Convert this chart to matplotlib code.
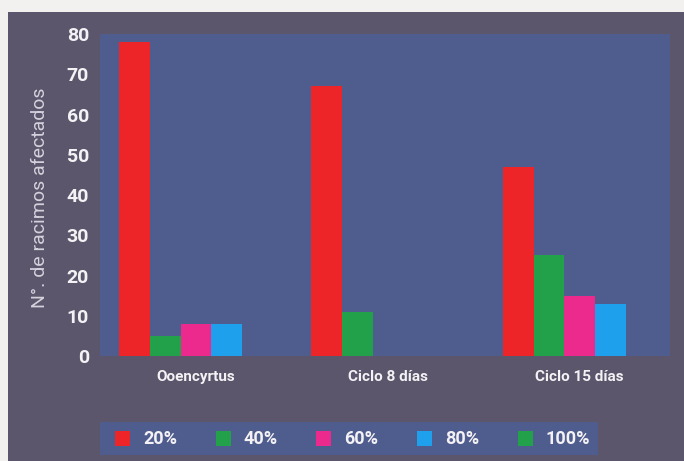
import numpy as np
import matplotlib.pyplot as plt
from matplotlib.patches import Rectangle

# datos: racimos afectados por grado de ataque
categorias = ['Ooencyrtus', 'Ciclo 8 días', 'Ciclo 15 días']
series = ['20%', '40%', '60%', '80%', '100%']
valores_20 = [78, 67, 47]
valores_40 = [5, 11, 25]
valores_60 = [8, 0, 15]
valores_80 = [8, 0, 13]
valores_100 = [0, 0, 0]
yticks = [0, 10, 20, 30, 40, 50, 60, 70, 80]

colores = ['#ee2528', '#22a04a', '#ec2a8e', '#1ea0ec', '#22a04a']
fondo_panel = '#5b566c'
fondo_graf = '#4e5c8e'
texto = '#f4f2f4'

plt.rcParams['font.family'] = ['Liberation Sans Narrow', 'Roboto', 'DejaVu Sans']

fig = plt.figure(figsize=(6.84, 4.61), dpi=100, facecolor='#f3f1ef')
W, H = 684, 461

def px(x0, y0, x1, y1):
    return [x0 / W, 1 - y1 / H, (x1 - x0) / W, (y1 - y0) / H]

# panel oscuro de fondo
fig.patches.append(Rectangle((8 / W, 0), 1, 1 - 12 / H, transform=fig.transFigure,
                             facecolor=fondo_panel, edgecolor='none', zorder=-10))

ax = fig.add_axes(px(100, 34, 670, 356))
ax.set_facecolor(fondo_graf)

datos = [valores_20, valores_40, valores_60, valores_80, valores_100]
x = np.arange(len(categorias))
ancho = 0.16
for i, (vals, col) in enumerate(zip(datos, colores)):
    ax.bar(x + (i - 2) * ancho, vals, width=ancho, color=col, edgecolor='none', zorder=3)

ax.set_xlim(-0.5, 2.47)
ax.set_ylim(0, 80)
ax.set_yticks(yticks)
ax.set_yticklabels([str(v) for v in yticks], fontsize=14, fontweight='bold', color=texto)
ax.set_xticks(x)
ax.set_xticklabels(categorias, fontsize=11, fontweight='bold', color=texto)
ax.tick_params(axis='y', length=0, pad=8)
ax.tick_params(axis='x', length=0, pad=10)
for s in ax.spines.values():
    s.set_visible(False)

fig.text(40 / W, 1 - 198 / H, 'N°. de racimos afectados', rotation=90,
         ha='center', va='center', fontsize=14, color='#d4d2dc')

# leyenda en caja azul
lg = fig.add_axes(px(100, 422, 598, 455))
lg.set_facecolor(fondo_graf)
lg.set_xlim(0, 498)
lg.set_ylim(0, 33)
lg.set_xticks([])
lg.set_yticks([])
for s in lg.spines.values():
    s.set_visible(False)
for i, (nombre, col) in enumerate(zip(series, colores)):
    x0 = 15 + i * 100.7
    lg.add_patch(Rectangle((x0, 9), 15, 15, facecolor=col, edgecolor='none'))
    lg.text(x0 + 28, 16.5, nombre, fontsize=13, fontweight='bold', color=texto,
            ha='left', va='center')

plt.savefig('out.png', dpi=100, facecolor=fig.get_facecolor())
